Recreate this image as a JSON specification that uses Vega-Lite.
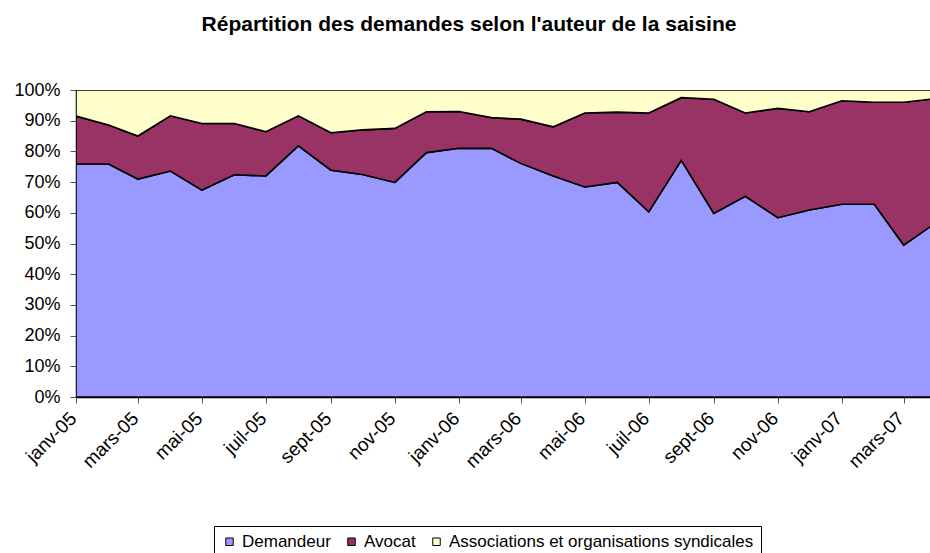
{
  "$schema": "https://vega.github.io/schema/vega-lite/v6.json",
  "autosize": {"type": "none"},
  "width": 854,
  "height": 307,
  "padding": {"left": 76, "top": 90, "right": 0, "bottom": 156},
  "background": "white",
  "config": {"font": "Liberation Sans", "view": {"stroke": null}, "legend": {"symbolType": "M-1,-1H1V1H-1Z"}},
  "title": {
    "text": "Répartition des demandes selon l'auteur de la saisine",
    "fontSize": 21,
    "fontWeight": "bold",
    "color": "black",
    "anchor": "middle",
    "frame": "group",
    "dx": -34,
    "offset": 46
  },
  "data": {
    "values": [
      {"mois": "2005-01-01", "auteur": "Demandeur", "part": 75.9},
      {"mois": "2005-01-01", "auteur": "Avocat", "part": 15.6},
      {"mois": "2005-01-01", "auteur": "Associations et organisations syndicales", "part": 8.5},
      {"mois": "2005-02-01", "auteur": "Demandeur", "part": 75.9},
      {"mois": "2005-02-01", "auteur": "Avocat", "part": 12.7},
      {"mois": "2005-02-01", "auteur": "Associations et organisations syndicales", "part": 11.4},
      {"mois": "2005-03-01", "auteur": "Demandeur", "part": 71.0},
      {"mois": "2005-03-01", "auteur": "Avocat", "part": 14.0},
      {"mois": "2005-03-01", "auteur": "Associations et organisations syndicales", "part": 15.0},
      {"mois": "2005-04-01", "auteur": "Demandeur", "part": 73.6},
      {"mois": "2005-04-01", "auteur": "Avocat", "part": 18.0},
      {"mois": "2005-04-01", "auteur": "Associations et organisations syndicales", "part": 8.4},
      {"mois": "2005-05-01", "auteur": "Demandeur", "part": 67.4},
      {"mois": "2005-05-01", "auteur": "Avocat", "part": 21.7},
      {"mois": "2005-05-01", "auteur": "Associations et organisations syndicales", "part": 10.9},
      {"mois": "2005-06-01", "auteur": "Demandeur", "part": 72.4},
      {"mois": "2005-06-01", "auteur": "Avocat", "part": 16.7},
      {"mois": "2005-06-01", "auteur": "Associations et organisations syndicales", "part": 10.9},
      {"mois": "2005-07-01", "auteur": "Demandeur", "part": 72.0},
      {"mois": "2005-07-01", "auteur": "Avocat", "part": 14.4},
      {"mois": "2005-07-01", "auteur": "Associations et organisations syndicales", "part": 13.6},
      {"mois": "2005-08-01", "auteur": "Demandeur", "part": 81.8},
      {"mois": "2005-08-01", "auteur": "Avocat", "part": 9.8},
      {"mois": "2005-08-01", "auteur": "Associations et organisations syndicales", "part": 8.4},
      {"mois": "2005-09-01", "auteur": "Demandeur", "part": 73.9},
      {"mois": "2005-09-01", "auteur": "Avocat", "part": 12.2},
      {"mois": "2005-09-01", "auteur": "Associations et organisations syndicales", "part": 13.9},
      {"mois": "2005-10-01", "auteur": "Demandeur", "part": 72.5},
      {"mois": "2005-10-01", "auteur": "Avocat", "part": 14.5},
      {"mois": "2005-10-01", "auteur": "Associations et organisations syndicales", "part": 13.0},
      {"mois": "2005-11-01", "auteur": "Demandeur", "part": 69.9},
      {"mois": "2005-11-01", "auteur": "Avocat", "part": 17.6},
      {"mois": "2005-11-01", "auteur": "Associations et organisations syndicales", "part": 12.5},
      {"mois": "2005-12-01", "auteur": "Demandeur", "part": 79.6},
      {"mois": "2005-12-01", "auteur": "Avocat", "part": 13.3},
      {"mois": "2005-12-01", "auteur": "Associations et organisations syndicales", "part": 7.1},
      {"mois": "2006-01-01", "auteur": "Demandeur", "part": 81.0},
      {"mois": "2006-01-01", "auteur": "Avocat", "part": 12.0},
      {"mois": "2006-01-01", "auteur": "Associations et organisations syndicales", "part": 7.0},
      {"mois": "2006-02-01", "auteur": "Demandeur", "part": 81.0},
      {"mois": "2006-02-01", "auteur": "Avocat", "part": 10.0},
      {"mois": "2006-02-01", "auteur": "Associations et organisations syndicales", "part": 9.0},
      {"mois": "2006-03-01", "auteur": "Demandeur", "part": 76.1},
      {"mois": "2006-03-01", "auteur": "Avocat", "part": 14.4},
      {"mois": "2006-03-01", "auteur": "Associations et organisations syndicales", "part": 9.5},
      {"mois": "2006-04-01", "auteur": "Demandeur", "part": 72.0},
      {"mois": "2006-04-01", "auteur": "Avocat", "part": 16.0},
      {"mois": "2006-04-01", "auteur": "Associations et organisations syndicales", "part": 12.0},
      {"mois": "2006-05-01", "auteur": "Demandeur", "part": 68.4},
      {"mois": "2006-05-01", "auteur": "Avocat", "part": 24.1},
      {"mois": "2006-05-01", "auteur": "Associations et organisations syndicales", "part": 7.5},
      {"mois": "2006-06-01", "auteur": "Demandeur", "part": 69.9},
      {"mois": "2006-06-01", "auteur": "Avocat", "part": 22.9},
      {"mois": "2006-06-01", "auteur": "Associations et organisations syndicales", "part": 7.2},
      {"mois": "2006-07-01", "auteur": "Demandeur", "part": 60.3},
      {"mois": "2006-07-01", "auteur": "Avocat", "part": 32.2},
      {"mois": "2006-07-01", "auteur": "Associations et organisations syndicales", "part": 7.5},
      {"mois": "2006-08-01", "auteur": "Demandeur", "part": 77.1},
      {"mois": "2006-08-01", "auteur": "Avocat", "part": 20.4},
      {"mois": "2006-08-01", "auteur": "Associations et organisations syndicales", "part": 2.5},
      {"mois": "2006-09-01", "auteur": "Demandeur", "part": 59.8},
      {"mois": "2006-09-01", "auteur": "Avocat", "part": 37.2},
      {"mois": "2006-09-01", "auteur": "Associations et organisations syndicales", "part": 3.0},
      {"mois": "2006-10-01", "auteur": "Demandeur", "part": 65.4},
      {"mois": "2006-10-01", "auteur": "Avocat", "part": 27.1},
      {"mois": "2006-10-01", "auteur": "Associations et organisations syndicales", "part": 7.5},
      {"mois": "2006-11-01", "auteur": "Demandeur", "part": 58.4},
      {"mois": "2006-11-01", "auteur": "Avocat", "part": 35.6},
      {"mois": "2006-11-01", "auteur": "Associations et organisations syndicales", "part": 6.0},
      {"mois": "2006-12-01", "auteur": "Demandeur", "part": 60.9},
      {"mois": "2006-12-01", "auteur": "Avocat", "part": 32.0},
      {"mois": "2006-12-01", "auteur": "Associations et organisations syndicales", "part": 7.1},
      {"mois": "2007-01-01", "auteur": "Demandeur", "part": 62.8},
      {"mois": "2007-01-01", "auteur": "Avocat", "part": 33.7},
      {"mois": "2007-01-01", "auteur": "Associations et organisations syndicales", "part": 3.5},
      {"mois": "2007-02-01", "auteur": "Demandeur", "part": 62.8},
      {"mois": "2007-02-01", "auteur": "Avocat", "part": 33.2},
      {"mois": "2007-02-01", "auteur": "Associations et organisations syndicales", "part": 4.0},
      {"mois": "2007-03-01", "auteur": "Demandeur", "part": 49.5},
      {"mois": "2007-03-01", "auteur": "Avocat", "part": 46.5},
      {"mois": "2007-03-01", "auteur": "Associations et organisations syndicales", "part": 4.0},
      {"mois": "2007-04-01", "auteur": "Demandeur", "part": 56.8},
      {"mois": "2007-04-01", "auteur": "Avocat", "part": 40.4},
      {"mois": "2007-04-01", "auteur": "Associations et organisations syndicales", "part": 2.8}
    ]
  },
  "mark": {
    "type": "area",
    "clip": true,
    "opacity": 1,
    "fillOpacity": 1,
    "stroke": "black",
    "strokeWidth": 1.6,
    "strokeJoin": "miter"
  },
  "encoding": {
    "x": {
      "field": "mois",
      "type": "temporal",
      "scale": {
        "type": "utc",
        "domain": [
          {"year": 2005, "month": 1, "date": 1, "utc": true},
          {"year": 2007, "month": 3, "date": 26, "hours": 2, "utc": true}
        ]
      },
      "axis": {
        "title": null,
        "values": [
          {"year": 2005, "month": 1, "date": 1, "utc": true},
          {"year": 2005, "month": 3, "date": 1, "utc": true},
          {"year": 2005, "month": 5, "date": 1, "utc": true},
          {"year": 2005, "month": 7, "date": 1, "utc": true},
          {"year": 2005, "month": 9, "date": 1, "utc": true},
          {"year": 2005, "month": 11, "date": 1, "utc": true},
          {"year": 2006, "month": 1, "date": 1, "utc": true},
          {"year": 2006, "month": 3, "date": 1, "utc": true},
          {"year": 2006, "month": 5, "date": 1, "utc": true},
          {"year": 2006, "month": 7, "date": 1, "utc": true},
          {"year": 2006, "month": 9, "date": 1, "utc": true},
          {"year": 2006, "month": 11, "date": 1, "utc": true},
          {"year": 2007, "month": 1, "date": 1, "utc": true},
          {"year": 2007, "month": 3, "date": 1, "utc": true}
        ],
        "labelExpr": "['janv','févr','mars','avr','mai','juin','juil','août','sept','oct','nov','déc'][utcmonth(datum.value)] + '-' + utcFormat(datum.value, '%y')",
        "labelAngle": -45,
        "labelAlign": "right",
        "labelBaseline": "middle",
        "labelFontSize": 19,
        "labelColor": "black",
        "labelPadding": 12,
        "labelOffset": -3,
        "labelFlush": false,
        "labelOverlap": false,
        "tickSize": 6,
        "tickColor": "#555",
        "domainColor": "black",
        "domainWidth": 1.5,
        "grid": false
      }
    },
    "y": {
      "field": "part",
      "type": "quantitative",
      "stack": "normalize",
      "scale": {"domain": [0, 1]},
      "axis": {
        "title": null,
        "values": [0, 0.1, 0.2, 0.3, 0.4, 0.5, 0.6, 0.7, 0.8, 0.9, 1],
        "format": ".0%",
        "labelFontSize": 18,
        "labelColor": "black",
        "labelPadding": 10,
        "tickSize": 6,
        "tickColor": "#555",
        "domainColor": "black",
        "domainWidth": 1.5,
        "grid": false
      }
    },
    "color": {
      "field": "auteur",
      "type": "nominal",
      "sort": ["Demandeur", "Avocat", "Associations et organisations syndicales"],
      "scale": {
        "domain": ["Demandeur", "Avocat", "Associations et organisations syndicales"],
        "range": ["#9999FF", "#993366", "#FFFFCC"]
      },
      "legend": {
        "title": null,
        "orient": "none",
        "direction": "horizontal",
        "legendX": 138,
        "legendY": 436,
        "strokeColor": "black",
        "padding": 7,
        "symbolType": "M-1,-1H1V1H-1Z",
        "symbolSize": 56,
        "symbolStrokeColor": "black",
        "symbolStrokeWidth": 1,
        "symbolOpacity": 1,
        "labelFontSize": 17,
        "labelColor": "black",
        "labelLimit": 500,
        "columnPadding": 12,
        "labelOffset": 4
      }
    }
  }
}
